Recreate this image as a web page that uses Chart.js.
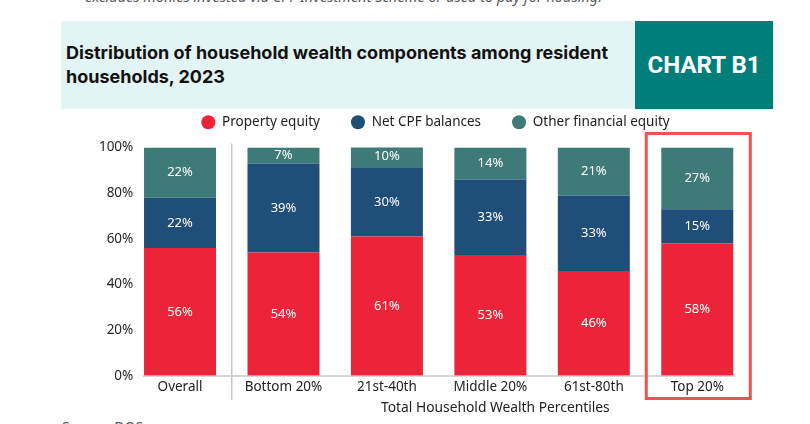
<!DOCTYPE html>
<html>
<head>
<meta charset="utf-8">
<script src="https://cdn.jsdelivr.net/npm/chart.js@4"></script>
<style>
  html, body { margin: 0; padding: 0; background: #fff; }
  body { width: 810px; height: 424px; overflow: hidden; position: relative; font-family: "Noto Sans", sans-serif; }
  #note { position: absolute; left: 85px; top: -14px; font-size: 14.5px; font-style: italic; color: #595959; white-space: nowrap; }
  #header { position: absolute; left: 61px; top: 21px; width: 574px; height: 88px; background: #e3f4f4; }
  #title { position: absolute; left: 66px; top: 41px; font-family: Inter, sans-serif; font-weight: bold; font-size: 18px; line-height: 24px; color: #111; }
  #badge { position: absolute; left: 635px; top: 21px; width: 138px; height: 88px; background: #007e7a; color: #fff; font-family: Roboto, sans-serif; font-weight: bold; font-size: 24px; display: flex; align-items: center; justify-content: center; }
  #source { position: absolute; left: 62px; top: 417px; font-size: 14px; line-height: 19px; color: #595959; }
  #wrap { position: absolute; left: 0; top: 0; width: 810px; height: 424px; }
</style>
</head>
<body>
<div id="note">excludes monies invested via CPF Investment Scheme or used to pay for housing.</div>
<div id="header"></div>
<div id="title">Distribution of household wealth components among resident<br>households, 2023</div>
<div id="badge">CHART B1</div>
<div id="source">Source: DOS</div>
<div id="wrap"><canvas id="wealthChart"></canvas></div>

<script>
const categories = ["Overall", "Bottom 20%", "21st-40th", "Middle 20%", "61st-80th", "Top 20%"];
const propertyEquity = [56, 54, 61, 53, 46, 58];
const netCpfBalances = [22, 39, 30, 33, 33, 15];
const otherFinancialEquity = [22, 7, 10, 14, 21, 27];
const yTicks = [0, 20, 40, 60, 80, 100];
const xTitle = "Total Household Wealth Percentiles";

const RED = "#ed2439";
const BLUE = "#1f4e79";
const TEAL = "#3e7b78";
const GREY_LINE = "#c8c8c8";

// fixed legend height so the plot top lands where the reference has it
const legendFix = {
    id: "legendFix",
    afterInit(chart) {
        const legend = chart.legend;
        const fit = legend.fit;
        legend.fit = function () {
            fit.call(this);
            this.height = 63;
        };
    },
};

const segmentLabels = {
    id: "segmentLabels",
    afterDatasetsDraw(chart) {
        const ctx = chart.ctx;
        ctx.save();
        ctx.fillStyle = "#fff";
        ctx.font = "13px 'Noto Sans', sans-serif";
        ctx.textAlign = "center";
        ctx.textBaseline = "middle";
        chart.data.datasets.forEach((ds, i) => {
            const meta = chart.getDatasetMeta(i);
            meta.data.forEach((bar, j) => {
                const p = bar.getProps(["x", "y", "base"], true);
                ctx.fillText(ds.data[j] + "%", p.x, (p.y + p.base) / 2);
            });
        });
        ctx.restore();
    },
};

const decorations = {
    id: "decorations",
    afterDraw(chart) {
        const ctx = chart.ctx;
        const x = chart.scales.x;
        const y = chart.scales.y;
        const step = x.getPixelForValue(1) - x.getPixelForValue(0);
        const half = step * 0.696 / 2;
        const y0 = y.getPixelForValue(0);
        ctx.save();

        // y tick labels, right aligned just left of the first bar
        ctx.fillStyle = "#262626";
        ctx.font = "13.5px 'Noto Sans', sans-serif";
        ctx.textAlign = "right";
        ctx.textBaseline = "middle";
        yTicks.forEach((v) => {
            ctx.fillText(v + "%", chart.chartArea.left + 5, y.getPixelForValue(v));
        });

        // baseline
        ctx.strokeStyle = GREY_LINE;
        ctx.lineWidth = 1.5;
        ctx.beginPath();
        ctx.moveTo(x.getPixelForValue(0) - half - 1, y0);
        ctx.lineTo(x.getPixelForValue(5) + half + 2, y0);
        ctx.stroke();

        // separator between Overall and the percentiles
        const sepX = (x.getPixelForValue(0) + x.getPixelForValue(1)) / 2;
        ctx.beginPath();
        ctx.moveTo(sepX, y.getPixelForValue(100) - 4);
        ctx.lineTo(sepX, y0 + 24);
        ctx.stroke();

        // axis title centred over the percentile groups
        ctx.fillStyle = "#222";
        ctx.font = "13.8px 'Noto Sans', sans-serif";
        ctx.textAlign = "center";
        const titleX = (x.getPixelForValue(1) + x.getPixelForValue(5)) / 2 + 5;
        ctx.fillText(xTitle, titleX, y0 + 32);

        // highlight box round Top 20%
        const cx = x.getPixelForValue(5);
        ctx.strokeStyle = "#f05252";
        ctx.lineWidth = 3;
        ctx.strokeRect(cx - 51, y.getPixelForValue(100) - 14, 104, 265);
        ctx.restore();
    },
};

function drawChart() {
    const canvas = document.getElementById("wealthChart");
    Chart.defaults.font.family = "'Noto Sans', sans-serif";
    Chart.defaults.font.size = 13;
    Chart.defaults.color = "#262626";

    new Chart(canvas.getContext("2d"), {
        type: "bar",
        data: {
            labels: categories,
            datasets: [
                { label: "Property equity", data: propertyEquity, backgroundColor: RED },
                { label: "Net CPF balances", data: netCpfBalances, backgroundColor: BLUE },
                { label: "Other financial equity", data: otherFinancialEquity, backgroundColor: TEAL },
            ],
        },
        options: {
            responsive: true,
            maintainAspectRatio: false,
            animation: false,
            layout: { padding: { left: 122, right: 61, top: 84.5, bottom: 0 } },
            datasets: {
                bar: { categoryPercentage: 1, barPercentage: 0.696, borderWidth: 0 },
            },
            plugins: {
                legend: {
                    position: "top",
                    labels: {
                        usePointStyle: true,
                        pointStyle: "circle",
                        pointStyleWidth: 14,
                        boxHeight: 10,
                        padding: 31,
                        color: "#222",
                        font: { size: 13.5 },
                    },
                },
                tooltip: { enabled: false },
            },
            scales: {
                x: {
                    stacked: true,
                    grid: { display: false, drawTicks: false },
                    border: { display: false },
                    ticks: { padding: 3, color: "#222", font: { size: 13.5 } },
                    afterFit: (scale) => { scale.height = 48; },
                },
                y: {
                    stacked: true,
                    min: 0,
                    max: 100,
                    grid: { display: false, drawTicks: false },
                    border: { display: false },
                    ticks: { display: false },
                    afterFit: (scale) => { scale.width = 6.3; },
                },
            },
        },
        plugins: [legendFix, segmentLabels, decorations],
    });
}

document.addEventListener("DOMContentLoaded", () => {
    drawChart();
});
</script>
</body>
</html>
